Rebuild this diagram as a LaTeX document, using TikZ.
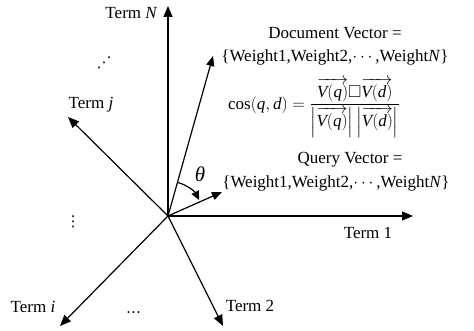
\documentclass[tikz,border=0pt]{standalone}
\usepackage{amsmath,amssymb}
\usepackage{fontspec}
\setmainfont{Liberation Serif}
\newfontfamily\dvfont{DejaVu Sans}
\usetikzlibrary{arrows.meta,calc}
\newcommand{\mv}[1]{\text{\itshape #1}}
\tikzset{
  vec/.style={line width=1.2pt,-{Triangle[length=11pt,width=9pt]}},
  lbl/.style={inner sep=0pt,font=\fontsize{17}{20}\selectfont},
  dots/.style={inner sep=0pt,font=\dvfont\fontsize{15}{18}\selectfont},
}
\begin{document}
\begin{tikzpicture}[x=1pt,y=1pt]
\useasboundingbox (0,0) rectangle (474,-331);
\coordinate (O) at (168,-216);
\coordinate (tN) at (168,-6);
\coordinate (t1) at (413,-216);
\coordinate (t2) at (223,-326);
\coordinate (ti) at (60,-326);
\coordinate (tj) at (68,-117);
\coordinate (doc) at (213,-56);
\coordinate (qry) at (222,-192);
\draw[vec] (O) -- (tN);
\draw[vec] (O) -- (t1);
\draw[vec] (O) -- (t2);
\draw[vec] (O) -- (ti);
\draw[vec] (O) -- (tj);
\draw[line width=1.2pt,-{Triangle[length=10pt,width=8pt]}] (O) -- (doc);
\draw[line width=1.2pt,-{Triangle[length=10pt,width=8pt]}] (O) -- (qry);
\draw[line width=1.2pt,-{Triangle[length=9pt,width=8pt]}] ($(O)+(74:35)$) arc[start angle=74,end angle=27,radius=35];
\node[inner sep=0pt,font=\fontsize{21}{24}\selectfont\itshape] (theta) at (200,-174) {θ};
\node[lbl] (lN) at (131.5,-13) {Term \textit{N}};
\node[lbl] (lj) at (91,-105) {Term \textit{j}};
\node[lbl] (li) at (33,-307) {Term \textit{i}};
\node[lbl] (l2) at (250,-306) {Term 2};
\node[lbl] (l1) at (368,-233) {Term 1};
\node[lbl] (dv) at (335,-33) {Document Vector =};
\node[lbl] (dw) at (335,-57) {\{Weight1,Weight2,$\cdots$,Weight\textit{N}\}};
\node[lbl] (cs) at (314,-108) {$\cos(\mv{q},\mv{d})=\dfrac{\overrightarrow{\mv{V}(\mv{q})}\mathord{\square}\overrightarrow{\mv{V}(\mv{d})}}{\left|\overrightarrow{\mv{V}(\mv{q})}\right|\left|\overrightarrow{\mv{V}(\mv{d})}\right|}$};
\node[lbl] (qv) at (350,-160) {Query Vector =};
\node[lbl] (qw) at (336,-183) {\{Weight1,Weight2,$\cdots$,Weight\textit{N}\}};
\node[dots] (vd) at (73,-222) {⋮};
\node[dots] (dd) at (104,-63) {⋰};
\node[dots] (hd) at (133.5,-313) {…};
\end{tikzpicture}
\end{document}
